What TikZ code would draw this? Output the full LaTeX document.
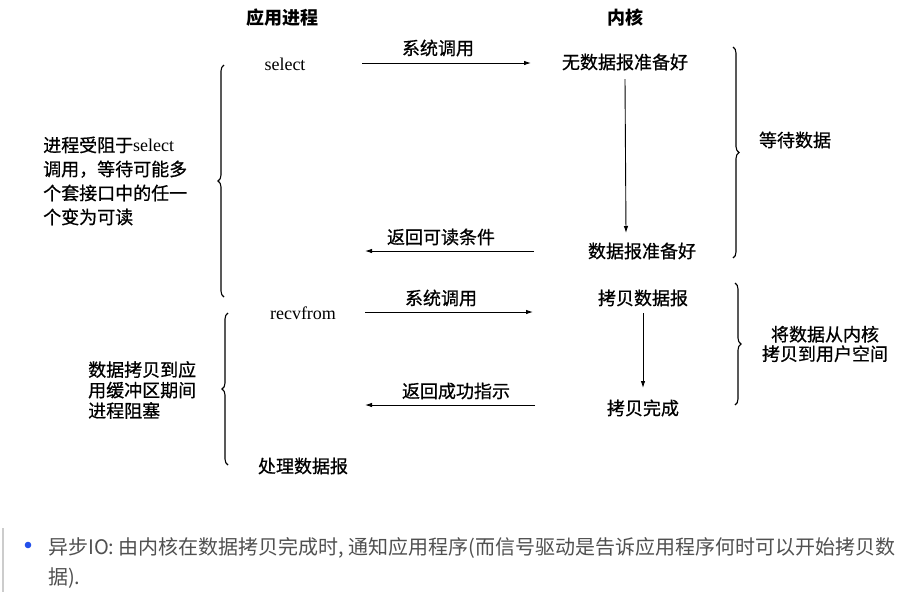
\documentclass[tikz,border=0pt]{standalone}
\usepackage{fontspec}
\newfontfamily\cjk[FakeBold=0.7]{Noto Sans CJK SC}
\newfontfamily\cjkhead{Noto Sans CJK SC}
\newfontfamily\cjknote{Noto Sans CJK SC}
\newfontfamily\scanrm{Liberation Serif}
\usepackage{tikz}
\usetikzlibrary{arrows.meta,decorations.pathreplacing}
\definecolor{notegray}{RGB}{80,80,80}
\definecolor{dotblue}{RGB}{35,80,235}

\begin{document}
\begin{tikzpicture}[x=1pt,y=-1pt,
    txt/.style={font=\cjk\fontsize{18}{21}\selectfont, inner sep=0pt},
    head/.style={font=\cjkhead\bfseries\fontsize{18}{21}\selectfont, inner sep=0pt},
    fn/.style={font=\scanrm\fontsize{18}{20}\selectfont, inner sep=0pt},
    call/.style={-{Latex[length=7pt,width=4.5pt]}, line width=0.9pt},
    brace/.style={decorate, decoration={brace, amplitude=6pt}, line width=1.1pt},
    note/.style={font=\cjknote\fontsize{20}{30}\selectfont, text=notegray, inner sep=0pt, anchor=west, align=left}]
    \useasboundingbox (0,0) rectangle (900,595);
    % Headers
    \node[head] (app) at (282,18) {应用进程};
    \node[head] (kern) at (625,18) {内核};
    % Application side
    \node[fn] (sel) at (285,64) {select};
    \node[fn] (recv) at (303,313) {recvfrom};
    \node[txt] (proc) at (303,466) {处理数据报};
    % Kernel side
    \node[txt] (nodata) at (625,62) {无数据报准备好};
    \node[txt] (ready) at (642,251) {数据报准备好};
    \node[txt] (copy) at (643,298) {拷贝数据报};
    \node[txt] (done) at (643,408) {拷贝完成};
    % Calls and returns
    \coordinate (c1a) at (362,63);  \coordinate (c1b) at (531,63);
    \coordinate (c2a) at (534,251); \coordinate (c2b) at (365,251);
    \coordinate (c3a) at (365,312); \coordinate (c3b) at (533,312);
    \coordinate (c4a) at (535,405); \coordinate (c4b) at (365,405);
    \draw[call] (c1a) -- (c1b);
    \draw[call] (c2a) -- (c2b);
    \draw[call] (c3a) -- (c3b);
    \draw[call] (c4a) -- (c4b);
    \node[txt] (l1) at (438,48) {系统调用};
    \node[txt] (l2) at (441,237) {返回可读条件};
    \node[txt] (l3) at (441,298) {系统调用};
    \node[txt] (l4) at (456,391) {返回成功指示};
    % Kernel steps
    \coordinate (w1) at (625,79);  \coordinate (w2) at (626,233);
    \coordinate (k1) at (643,313); \coordinate (k2) at (643,388);
    \draw[call] (w1) -- (w2);
    \draw[call] (k1) -- (k2);
    % Braces
    \draw[brace] (224,297) -- (224,65);
    \draw[brace] (228,465) -- (228,313);
    \draw[brace] (733,47) -- (733,258);
    \draw[brace] (735,283) -- (735,405);
    \node[txt, anchor=west, align=left, font=\cjk\fontsize{18}{24}\selectfont] (blk1) at (43,181)
        {进程受阻于{\scanrm select}\\调用，等待可能多\\个套接口中的任一\\个变为可读};
    \node[txt, anchor=west, align=left, font=\cjk\fontsize{18}{20.5}\selectfont] (blk2) at (88,390)
        {数据拷贝到应\\用缓冲区期间\\进程阻塞};
    \node[txt] (wait) at (795,140) {等待数据};
    \node[txt, align=center, font=\cjk\fontsize{18}{19.5}\selectfont] (move) at (825,344)
        {将数据从内核\\拷贝到用户空间};
    % Note below
    \fill[black!20] (1.5,528) rectangle (4,592);
    \fill[dotblue] (28,545) circle (3.3);
    \node[note] (ps) at (48,563)
        {异步IO: 由内核在数据拷贝完成时, 通知应用程序(而信号驱动是告诉应用程序何时可以开始拷贝数\\据).};
\end{tikzpicture}
\end{document}
